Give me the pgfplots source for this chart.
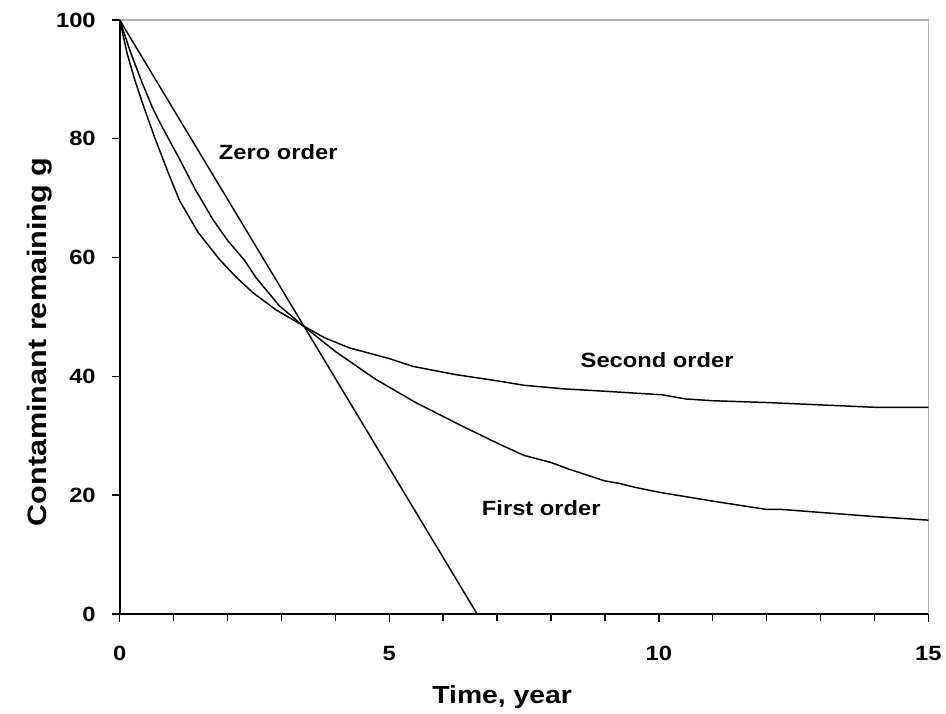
\documentclass[border=0pt]{standalone}
\usepackage{fontspec}
\setmainfont[FakeStretch=1.15]{Liberation Sans}
\usepackage{pgfplots}
\pgfplotsset{compat=1.18}

\pgfplotstableread{
t v
0 100
6.63 0
}\zeroorder

\pgfplotstableread{
t v
0 100
0.2 94.6
0.4 89.8
0.6 85.4
0.77 82.3
0.93 79.6
1.11 76.6
1.4 71.5
1.73 66.4
2.0 62.9
2.31 59.6
2.53 56.6
2.96 51.9
3.39 48.6
4.0 44.2
4.75 39.5
5.49 35.6
6.36 31.6
7.04 28.6
7.5 26.7
8.0 25.5
8.33 24.4
9.0 22.4
9.26 22.0
9.57 21.3
10.0 20.5
11.0 19.0
12.0 17.6
12.28 17.6
13.0 17.1
14.0 16.4
15.0 15.8
}\firstorder

\pgfplotstableread{
t v
0 100
0.14 94.3
0.28 89.9
0.45 85.3
0.65 80.2
0.9 74.3
1.11 69.6
1.45 64.3
1.85 59.7
2.15 56.8
2.47 54.1
2.9 51.2
3.39 48.6
3.8 46.5
4.26 44.8
5.0 43.0
5.43 41.7
6.23 40.3
7.04 39.2
7.5 38.5
8.24 37.9
9.0 37.5
10.06 36.9
10.5 36.2
11.0 35.9
12.0 35.6
13.0 35.2
14.0 34.8
15.0 34.8
}\secondorder

\begin{document}
\begin{tikzpicture}
\begin{axis}[
  scale only axis, width=607.5pt, height=446.25pt,
  xmin=0, xmax=15, ymin=0, ymax=100,
  clip=false,
  axis lines=left,
  axis line style={line width=1.3pt, -},
  xtick={0,5,10,15}, ytick={0,20,40,60,80,100},
  minor x tick num=4,
  tick align=outside,
  major tick length=6pt, minor tick length=5pt,
  tick style={line width=1.1pt, black},
  /pgf/number format/assume math mode=true,
  tick label style={font=\fontsize{15.5}{17}\selectfont\bfseries},
  xticklabel style={yshift=-14.5pt},
  yticklabel style={xshift=-8.5pt},
  xlabel={Time, year},
  ylabel={Contaminant remaining g},
  label style={font=\fontsize{18.5}{21}\selectfont\bfseries},
  xlabel style={at={(axis description cs:0.473,-0.151)}, anchor=base},
  ylabel style={at={(axis description cs:-0.0901,0.458)}, anchor=base, font=\fontsize{20}{22}\selectfont\bfseries},
]
\draw[gray!60, line width=1pt] (rel axis cs:0,1) -- (rel axis cs:1,1) -- (rel axis cs:1,0);
\addplot[black, line width=1.1pt] table[x=t,y=v] {\zeroorder};
\addplot[black, line width=1.1pt] table[x=t,y=v] {\firstorder};
\addplot[black, line width=1.1pt] table[x=t,y=v] {\secondorder};
\node[font=\fontsize{15.5}{17}\selectfont\bfseries] at (axis cs:2.94,77.7) {Zero order};
\node[font=\fontsize{15.5}{17}\selectfont\bfseries] at (axis cs:9.97,42.8) {Second order};
\node[font=\fontsize{15.5}{17}\selectfont\bfseries] at (axis cs:7.82,17.9) {First order};
\coordinate (bbl) at (rel axis cs:-0.148,-0.1613);
\coordinate (btr) at (rel axis cs:1.0198,1.0336);
\end{axis}
\path (bbl) rectangle (btr);
\end{tikzpicture}
\end{document}
